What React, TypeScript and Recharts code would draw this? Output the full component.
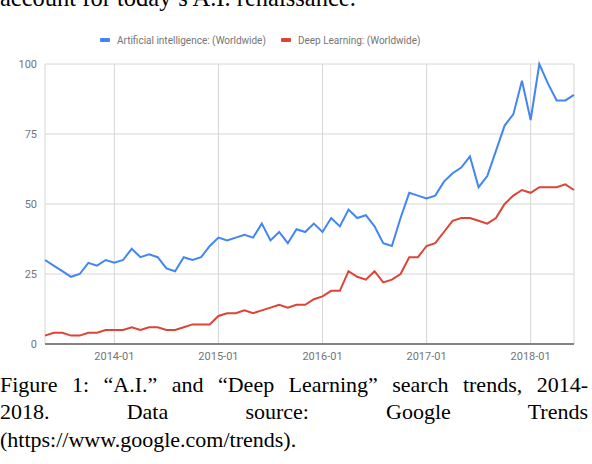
import React from 'react';
import { LineChart, Line, XAxis, YAxis, CartesianGrid } from 'recharts';

// monthly search interest, starting 2013-05
const aiValues = [
  30, 28, 26, 24, 25, 29, 28, 30, 29, 30, 34, 31, 32, 31, 27, 26,
  31, 30, 31, 35, 38, 37, 38, 39, 38, 43, 37, 40, 36, 41, 40, 43,
  40, 45, 42, 48, 45, 46, 42, 36, 35, 45, 54, 53, 52, 53, 58, 61,
  63, 67, 56, 60, 69, 78, 82, 94, 80, 100, 93, 87, 87, 89,
];
const dlValues = [
  3, 4, 4, 3, 3, 4, 4, 5, 5, 5, 6, 5, 6, 6, 5, 5,
  6, 7, 7, 7, 10, 11, 11, 12, 11, 12, 13, 14, 13, 14, 14, 16,
  17, 19, 19, 26, 24, 23, 26, 22, 23, 25, 31, 31, 35, 36, 40, 44,
  45, 45, 44, 43, 45, 50, 53, 55, 54, 56, 56, 56, 57, 55,
];
const yearTicks = [8, 20, 32, 44, 56];
const yearLabels = ['2014-01', '2015-01', '2016-01', '2017-01', '2018-01'];
const valueTicks = [0, 25, 50, 75, 100];

const seriesNames = ['Artificial intelligence: (Worldwide)', 'Deep Learning: (Worldwide)'];
const blue = '#4285f4';
const red = '#db4437';
const labelColor = '#757575';

const rows = aiValues.map((v, i) => ({ month: i, ai: v, dl: dlValues[i] }));

const serif = '"Liberation Serif", "Times New Roman", serif';

const LegendItem = ({ color, text }: { color: string; text: string }) => (
  <div style={{ display: 'flex', alignItems: 'center', marginRight: 15 }}>
    <span style={{ width: 10, height: 4, borderRadius: 1, background: color, marginRight: 7 }} />
    <span>{text}</span>
  </div>
);

export default function App() {
  return (
    <div style={{ position: 'absolute', left: 0, top: 0, width: 592, height: 464, overflow: 'hidden', background: '#fff' }}>
      <div style={{ position: 'absolute', left: 0, top: -16.8, fontFamily: serif, fontSize: 24.5, lineHeight: '30px', whiteSpace: 'nowrap', color: '#000' }}>
        account for today’s A.I. renaissance.
      </div>

      <div style={{ position: 'absolute', left: 100, top: 32, height: 16, display: 'flex', alignItems: 'center', fontFamily: 'Roboto', fontSize: 10, color: labelColor }}>
        <LegendItem color={blue} text={seriesNames[0]} />
        <LegendItem color={red} text={seriesNames[1]} />
      </div>

      <div style={{ position: 'absolute', left: 0, top: 0 }}>
        <LineChart width={592} height={372} data={rows} margin={{ top: 64, right: 18, bottom: 0, left: 0 }} style={{ fontFamily: 'Roboto' }}>
          <CartesianGrid stroke="#d6d6d6" strokeWidth={1} />
          <XAxis
            type="number"
            dataKey="month"
            domain={[0, 61]}
            ticks={yearTicks}
            tickFormatter={(v: number) => yearLabels[yearTicks.indexOf(v)]}
            tickLine={false}
            axisLine={{ stroke: '#616161', strokeWidth: 1.5 }}
            tick={{ fill: labelColor, fontSize: 11 }}
            height={28}
          />
          <YAxis
            domain={[0, 100]}
            ticks={valueTicks}
            tickLine={false}
            axisLine={false}
            tick={{ fill: labelColor, fontSize: 11 }}
            width={45}
          />
          <Line type="linear" dataKey="ai" name={seriesNames[0]} stroke={blue} strokeWidth={2} dot={false} isAnimationActive={false} />
          <Line type="linear" dataKey="dl" name={seriesNames[1]} stroke={red} strokeWidth={2} dot={false} isAnimationActive={false} />
        </LineChart>
      </div>

      <div style={{ position: 'absolute', left: 0, top: 370.5, width: 588, fontFamily: serif, fontSize: 22, lineHeight: '27.5px', color: '#000' }}>
        <div style={{ textAlign: 'justify', textAlignLast: 'justify' }}>Figure 1: “A.I.” and “Deep Learning” search trends, 2014-</div>
        <div style={{ textAlign: 'justify', textAlignLast: 'justify' }}>2018. Data source: Google Trends</div>
        <div>(https://www.google.com/trends).</div>
      </div>
    </div>
  );
}
